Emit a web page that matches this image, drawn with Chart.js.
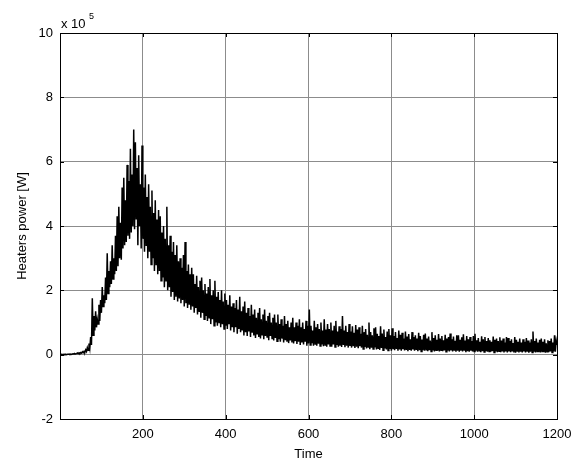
<!DOCTYPE html>
<html>
<head>
<meta charset="utf-8">
<script src="https://cdn.jsdelivr.net/npm/chart.js@4/dist/chart.umd.min.js"></script>
<style>
    html, body { margin: 0; padding: 0; background: #fff; }
    #wrap { width: 586px; height: 462px; }
</style>
</head>
<body>
<div id="wrap"><canvas id="powerChart" width="586" height="462"></canvas></div>
<script>
// Heaters power in units of 1e5 W, one sample every 2 s
const timeStep = 2;
const powerE5 = [
    0.00, 0.00, 0.01, 0.00, 0.01, 0.00, 0.01, 0.01, 0.00, 0.01,
    0.01, 0.02, 0.01, 0.02, 0.01, 0.02, 0.03, 0.02, 0.03, 0.02,
    0.03, 0.05, 0.03, 0.06, 0.04, 0.07, 0.05, 0.09, 0.06, 0.10,
    0.08, 0.15, 0.10, 0.22, 0.14, 0.35, 0.20, 0.55, 0.30, 1.75,
    0.60, 1.20, 0.75, 1.35, 0.85, 1.10, 0.95, 1.55, 1.05, 1.70,
    1.30, 2.10, 1.50, 1.85, 1.60, 2.40, 1.70, 3.15, 1.90, 2.60,
    2.10, 2.90, 2.20, 3.40, 2.35, 3.00, 2.50, 3.70, 2.60, 4.30,
    2.75, 4.60, 3.00, 4.10, 2.95, 5.20, 3.30, 5.50, 3.40, 4.80,
    3.50, 5.90, 3.70, 5.40, 3.60, 6.40, 3.80, 5.60, 4.00, 7.00,
    3.90, 6.60, 4.20, 5.80, 3.40, 6.20, 4.00, 5.30, 3.30, 6.50,
    3.60, 5.20, 3.20, 5.60, 3.40, 4.90, 3.00, 5.30, 3.20, 4.60,
    2.80, 5.10, 3.00, 4.40, 2.60, 4.80, 2.80, 4.20, 2.50, 4.50,
    2.60, 4.30, 2.30, 3.80, 2.40, 4.00, 2.10, 3.60, 2.30, 4.60,
    2.00, 3.40, 2.10, 3.70, 1.80, 3.20, 1.95, 3.50, 1.70, 3.10,
    1.80, 3.40, 1.65, 2.90, 1.75, 3.00, 1.60, 2.70, 1.70, 3.10,
    1.50, 3.50, 1.60, 2.60, 1.45, 2.80, 1.55, 2.50, 1.40, 2.70,
    1.50, 2.50, 1.30, 2.20, 1.45, 2.45, 1.25, 2.10, 1.35, 2.30,
    1.15, 2.40, 1.30, 2.00, 1.10, 2.20, 1.20, 1.90, 1.05, 2.10,
    1.15, 2.35, 0.95, 1.85, 1.10, 2.00, 0.90, 2.30, 1.00, 1.80,
    0.90, 1.95, 1.00, 1.70, 0.85, 2.00, 0.95, 1.65, 0.80, 1.90,
    0.90, 1.70, 0.80, 1.55, 0.95, 1.85, 0.75, 1.50, 0.85, 1.60,
    0.70, 1.45, 0.85, 1.70, 0.65, 1.40, 0.80, 1.80, 0.70, 1.35,
    0.75, 1.50, 0.60, 1.65, 0.70, 1.30, 0.58, 1.45, 0.72, 1.20,
    0.55, 1.55, 0.68, 1.25, 0.60, 1.40, 0.52, 1.15, 0.65, 1.30,
    0.55, 1.45, 0.50, 1.10, 0.62, 1.25, 0.48, 1.40, 0.58, 1.05,
    0.55, 1.20, 0.45, 1.30, 0.58, 1.00, 0.50, 1.15, 0.44, 1.25,
    0.52, 1.00, 0.42, 1.25, 0.48, 0.95, 0.40, 1.10, 0.50, 0.90,
    0.38, 1.20, 0.45, 0.95, 0.40, 1.05, 0.36, 0.85, 0.44, 1.00,
    0.38, 1.15, 0.35, 0.85, 0.42, 1.00, 0.33, 0.90, 0.40, 1.10,
    0.30, 0.85, 0.38, 1.00, 0.32, 0.80, 0.40, 1.05, 0.28, 0.90,
    0.35, 1.40, 0.30, 0.90, 0.36, 0.75, 0.28, 1.05, 0.33, 0.85,
    0.28, 0.95, 0.34, 0.80, 0.27, 1.00, 0.32, 0.75, 0.26, 1.10,
    0.30, 0.78, 0.25, 0.95, 0.32, 0.80, 0.27, 1.00, 0.25, 0.75,
    0.32, 0.90, 0.24, 1.05, 0.30, 0.72, 0.25, 0.88, 0.28, 0.80,
    0.24, 1.20, 0.30, 0.75, 0.23, 0.90, 0.28, 0.70, 0.22, 0.95,
    0.27, 0.72, 0.22, 0.88, 0.26, 0.68, 0.21, 0.92, 0.25, 0.78,
    0.20, 0.85, 0.26, 0.65, 0.22, 0.90, 0.18, 0.70, 0.24, 0.80,
    0.19, 0.62, 0.24, 1.00, 0.17, 0.70, 0.22, 0.60, 0.18, 0.82,
    0.22, 0.85, 0.16, 0.65, 0.20, 0.58, 0.15, 0.88, 0.21, 0.66,
    0.14, 0.78, 0.19, 0.55, 0.16, 0.72, 0.13, 0.80, 0.18, 0.60,
    0.12, 0.82, 0.17, 0.58, 0.14, 0.70, 0.18, 0.52, 0.12, 0.75,
    0.16, 0.62, 0.12, 0.68, 0.17, 0.50, 0.13, 0.72, 0.15, 0.56,
    0.11, 0.64, 0.15, 0.48, 0.12, 0.70, 0.16, 0.55, 0.12, 0.60,
    0.15, 0.50, 0.11, 0.68, 0.14, 0.58, 0.10, 0.47, 0.14, 0.62,
    0.12, 0.66, 0.15, 0.50, 0.11, 0.56, 0.14, 0.44, 0.10, 0.70,
    0.13, 0.52, 0.10, 0.60, 0.14, 0.46, 0.12, 0.64, 0.10, 0.50,
    0.14, 0.58, 0.11, 0.45, 0.13, 0.62, 0.09, 0.50, 0.12, 0.55,
    0.10, 0.66, 0.13, 0.48, 0.10, 0.56, 0.12, 0.43, 0.09, 0.60,
    0.12, 0.60, 0.09, 0.46, 0.12, 0.54, 0.10, 0.63, 0.12, 0.44,
    0.08, 0.58, 0.11, 0.48, 0.09, 0.55, 0.12, 0.42, 0.10, 0.58,
    0.10, 0.65, 0.12, 0.45, 0.09, 0.52, 0.12, 0.40, 0.08, 0.57,
    0.11, 0.48, 0.08, 0.55, 0.11, 0.42, 0.09, 0.52, 0.10, 0.45,
    0.09, 0.40, 0.11, 0.56, 0.07, 0.46, 0.10, 0.50, 0.08, 0.42,
    0.11, 0.54, 0.08, 0.44, 0.10, 0.50, 0.07, 0.38, 0.10, 0.55,
    0.07, 0.52, 0.10, 0.42, 0.08, 0.48, 0.10, 0.36, 0.07, 0.55,
    0.06, 0.46, 0.09, 0.40, 0.07, 0.50, 0.09, 0.38, 0.07, 0.48,
    0.10, 0.40, 0.07, 0.52, 0.09, 0.44, 0.06, 0.38, 0.09, 0.48,
    0.07, 0.72, 0.09, 0.42, 0.07, 0.50, 0.10, 0.38, 0.08, 0.46,
    0.07, 0.50, 0.10, 0.40, 0.08, 0.48, 0.06, 0.35, 0.09, 0.45,
    0.08, 0.42, 0.10, 0.50, 0.07, 0.38, 0.10, 0.60, 0.09, 0.44,
    0.30
];
const xTicks = [200, 400, 600, 800, 1000, 1200];
const yTicks = [-2, 0, 2, 4, 6, 8, 10];

const points = powerE5.map((v, i) => ({ x: i * timeStep, y: v }));

// MATLAB-like frame, inward tick marks and the "x 10^5" multiplier
const matlabFrame = {
    id: 'matlabFrame',
    beforeDraw(chart) {
        const ctx = chart.ctx;
        ctx.save();
        ctx.fillStyle = '#fff';
        ctx.fillRect(0, 0, chart.width, chart.height);
        ctx.restore();
    },
    afterDatasetsDraw(chart) {
        const { ctx, chartArea: a, scales } = chart;
        ctx.save();
        ctx.strokeStyle = '#000';
        ctx.lineWidth = 1;
        ctx.strokeRect(Math.round(a.left) + 0.5, Math.round(a.top) + 0.5,
            Math.round(a.right - a.left), Math.round(a.bottom - a.top));
        ctx.beginPath();
        xTicks.forEach(v => {
            const px = Math.round(scales.x.getPixelForValue(v)) + 0.5;
            ctx.moveTo(px, a.bottom); ctx.lineTo(px, a.bottom - 4);
            ctx.moveTo(px, a.top); ctx.lineTo(px, a.top + 4);
        });
        yTicks.forEach(v => {
            const py = Math.round(scales.y.getPixelForValue(v)) + 0.5;
            ctx.moveTo(a.left, py); ctx.lineTo(a.left + 4, py);
            ctx.moveTo(a.right, py); ctx.lineTo(a.right - 4, py);
        });
        ctx.stroke();
        ctx.fillStyle = '#000';
        ctx.textBaseline = 'alphabetic';
        ctx.font = '13px "Liberation Sans", Arial, sans-serif';
        ctx.fillText('x 10', a.left + 1, a.top - 5);
        ctx.font = '9px "Liberation Sans", Arial, sans-serif';
        ctx.fillText('5', a.left + 29, a.top - 14);
        ctx.restore();
    }
};

const tickFont = { family: '"Liberation Sans", Arial, sans-serif', size: 13 };

new Chart(document.getElementById('powerChart').getContext('2d'), {
    type: 'line',
    data: {
        datasets: [{
            label: 'Heaters power',
            data: points,
            borderColor: '#000',
            borderWidth: 1.5,
            pointRadius: 0,
            tension: 0,
            fill: false
        }]
    },
    options: {
        responsive: false,
        animation: false,
        events: [],
        layout: { padding: { left: 0, top: 33, right: 29, bottom: 0 } },
        plugins: {
            legend: { display: false },
            tooltip: { enabled: false }
        },
        scales: {
            x: {
                type: 'linear',
                min: 0,
                max: 1200,
                afterBuildTicks: s => { s.ticks = [0].concat(xTicks).map(v => ({ value: v })); },
                afterFit: s => { s.height = 43; },
                grid: { color: '#8c8c8c', lineWidth: 1, drawTicks: false },
                border: { display: false },
                ticks: {
                    color: '#000',
                    font: tickFont,
                    padding: 8,
                    maxRotation: 0,
                    callback: v => (v === 0 ? '' : v)
                },
                title: {
                    display: true,
                    text: 'Time',
                    color: '#000',
                    font: tickFont,
                    padding: { top: 2, bottom: 0 }
                }
            },
            y: {
                min: -2,
                max: 10,
                afterBuildTicks: s => { s.ticks = yTicks.map(v => ({ value: v })); },
                afterFit: s => { s.width = 60; },
                grid: { color: '#8c8c8c', lineWidth: 1, drawTicks: false },
                border: { display: false },
                ticks: {
                    color: '#000',
                    font: tickFont,
                    padding: 7
                },
                title: {
                    display: true,
                    text: 'Heaters power [W]',
                    color: '#000',
                    font: tickFont,
                    padding: { top: 15, bottom: 0 }
                }
            }
        }
    },
    plugins: [matlabFrame]
});
</script>
</body>
</html>
